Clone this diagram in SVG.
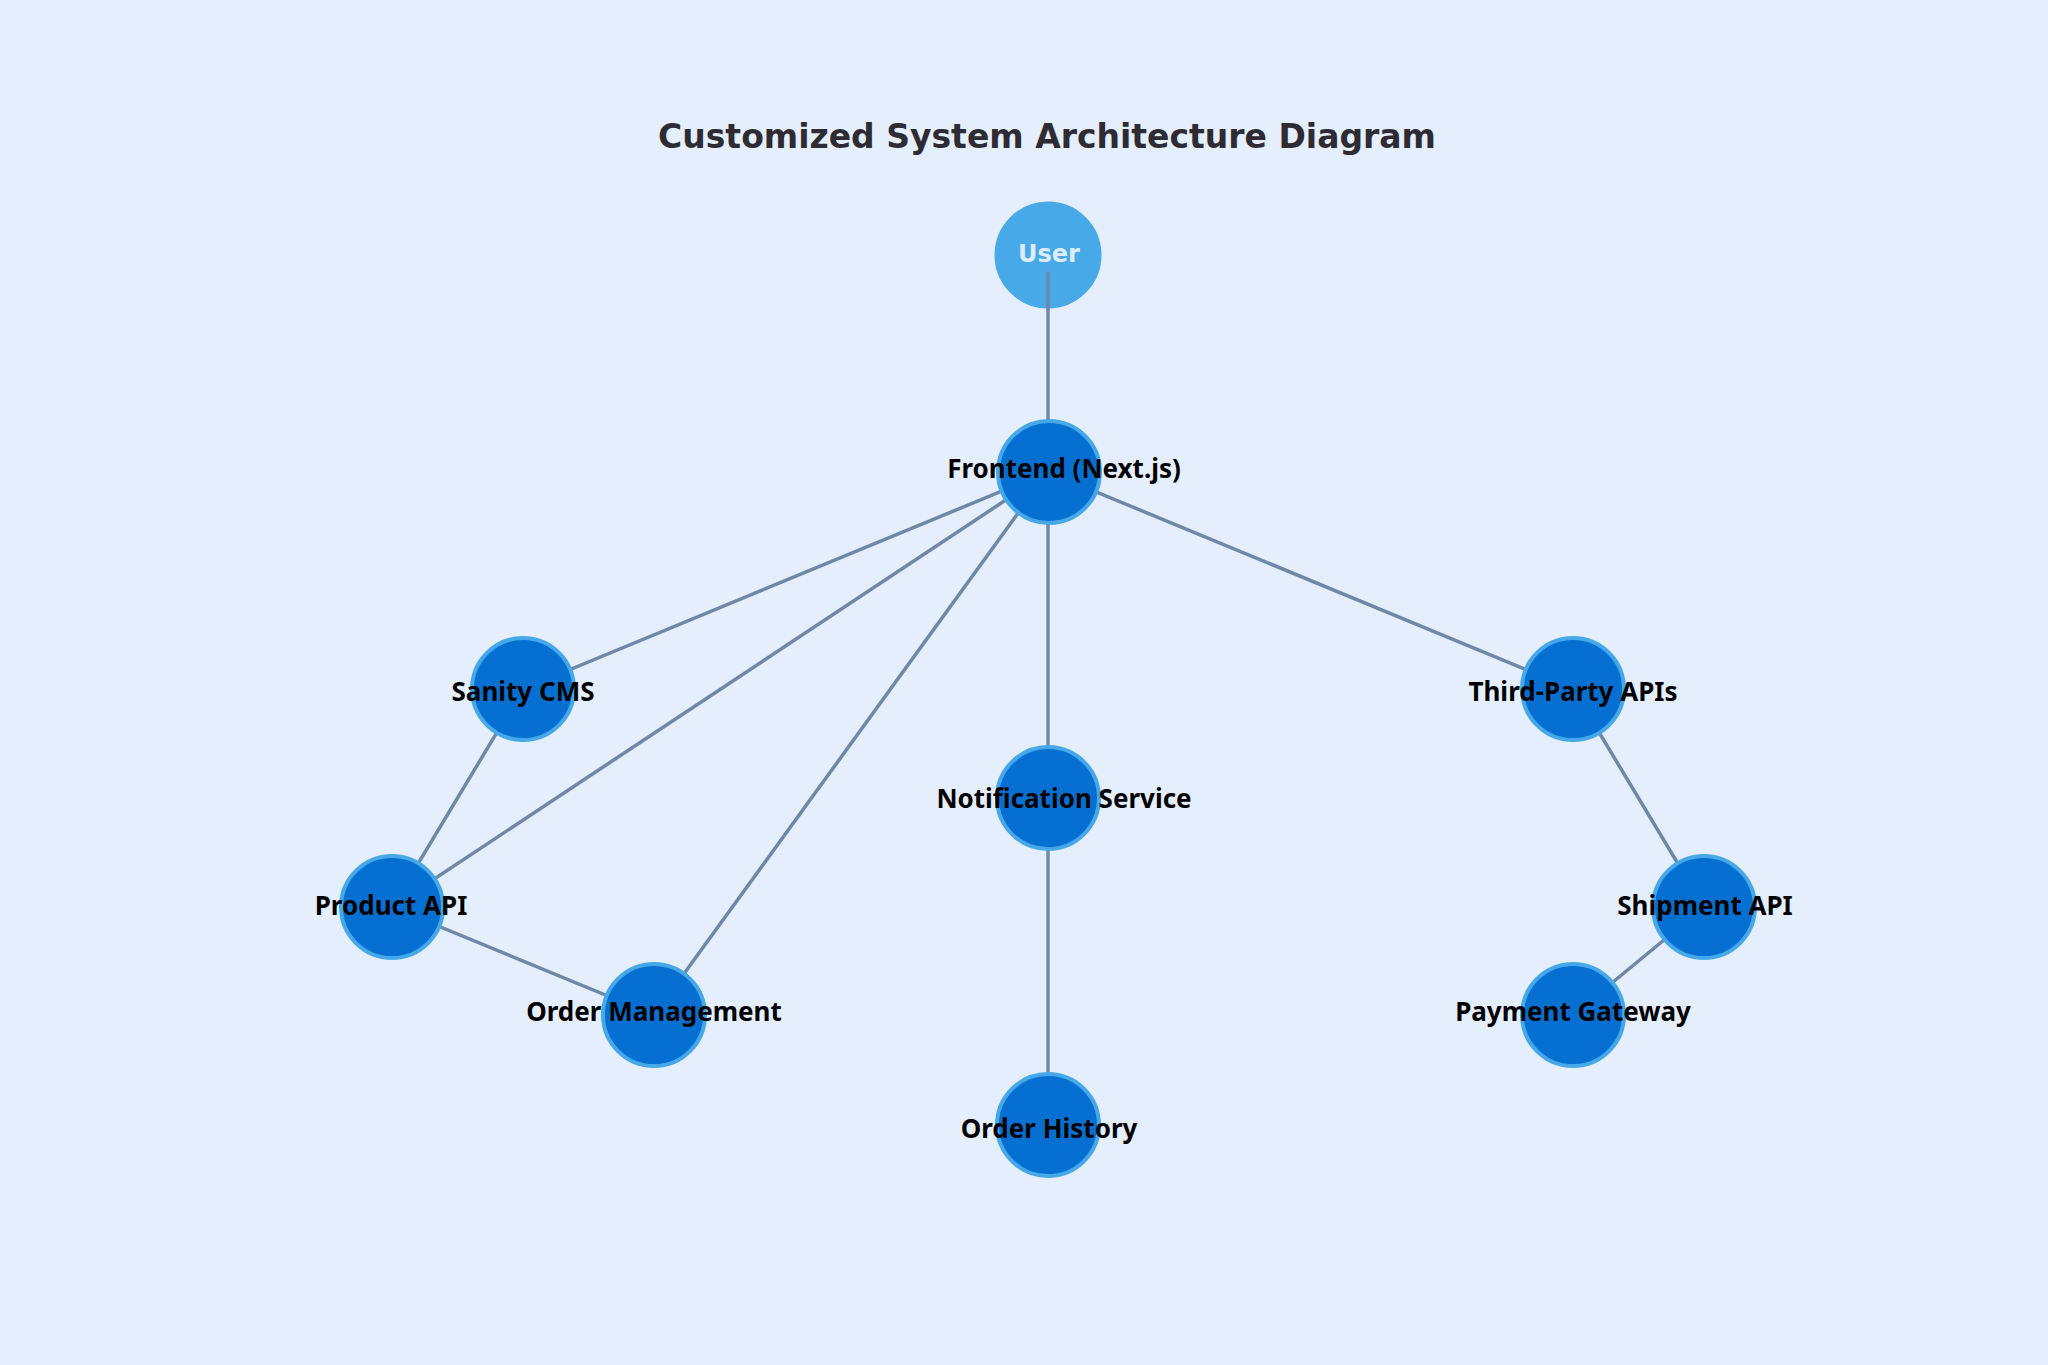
<svg xmlns="http://www.w3.org/2000/svg" width="2048" height="1365" viewBox="0 0 2048 1365">
<style>
.edge{stroke:#7088a8;stroke-width:3.5;fill:none;stroke-linecap:round}
.node{fill:#0670d2;stroke:#46a8e8;stroke-width:4}
.lbl{font-family:"Noto Sans","Liberation Sans",sans-serif;font-weight:bold;font-size:26px;fill:#000;text-anchor:middle}
.title{font-family:"DejaVu Sans","Liberation Sans",sans-serif;font-weight:bold;font-size:33px;fill:#2e2b33;text-anchor:middle}
</style>
<rect x="0" y="0" width="2048" height="1365" fill="#e4eefc"/>
<text class="title" x="1047" y="148">Customized System Architecture Diagram</text>
<g id="user">
<circle cx="1048" cy="255" r="52" fill="#47a9e8" stroke="#4aaae8" stroke-width="3"/>
<text x="1049" y="262" font-family="DejaVu Sans,Liberation Sans,sans-serif" font-weight="bold" font-size="24" fill="#dcedfb" text-anchor="middle">User</text>
</g>
<g id="connectors">
<line class="edge" x1="1048" y1="273" x2="1048" y2="472"/>
<line class="edge" x1="1048" y1="472" x2="523" y2="689"/>
<line class="edge" x1="1048" y1="472" x2="392" y2="907"/>
<line class="edge" x1="1048" y1="472" x2="654" y2="1015"/>
<line class="edge" x1="1048" y1="472" x2="1048" y2="798"/>
<line class="edge" x1="1048" y1="472" x2="1573" y2="689"/>
<line class="edge" x1="523" y1="689" x2="392" y2="907"/>
<line class="edge" x1="392" y1="907" x2="654" y2="1015"/>
<line class="edge" x1="1048" y1="798" x2="1048" y2="1125"/>
<line class="edge" x1="1573" y1="689" x2="1704" y2="907"/>
<line class="edge" x1="1704" y1="907" x2="1573" y2="1015"/>
</g>
<g id="frontend">
<circle class="node" cx="1049" cy="472" r="51"/>
<text class="lbl" x="1064" y="478">Frontend (Next.js)</text>
</g>
<g id="sanity">
<circle class="node" cx="523" cy="689" r="51"/>
<text class="lbl" x="523" y="701">Sanity CMS</text>
</g>
<g id="product-api">
<circle class="node" cx="392" cy="907" r="51"/>
<text class="lbl" x="391" y="915">Product API</text>
</g>
<g id="order-management">
<circle class="node" cx="654" cy="1015" r="51"/>
<text class="lbl" x="654" y="1021">Order Management</text>
</g>
<g id="notification">
<circle class="node" cx="1048" cy="798" r="51"/>
<text class="lbl" x="1064" y="808">Notification Service</text>
</g>
<g id="order-history">
<circle class="node" cx="1048" cy="1125" r="51"/>
<text class="lbl" x="1049" y="1138">Order History</text>
</g>
<g id="third-party">
<circle class="node" cx="1573" cy="689" r="51"/>
<text class="lbl" x="1573" y="701">Third-Party APIs</text>
</g>
<g id="shipment-api">
<circle class="node" cx="1704" cy="907" r="51"/>
<text class="lbl" x="1705" y="915">Shipment API</text>
</g>
<g id="payment-gateway">
<circle class="node" cx="1573" cy="1015" r="51"/>
<text class="lbl" x="1573" y="1021">Payment Gateway</text>
</g>
</svg>
